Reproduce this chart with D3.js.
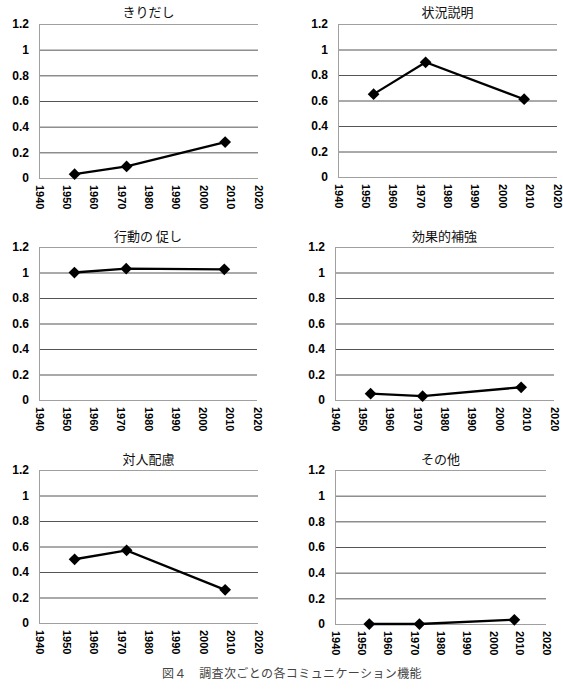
<!DOCTYPE html>
<html>
<head>
<meta charset="utf-8">
<script src="https://cdn.jsdelivr.net/npm/d3@7"></script>
<style>
  body { margin: 0; background: #fff; }
  svg { display: block; }
</style>
</head>
<body>
<div id="chart"></div>
<script>
// survey years
var years = [1953, 1972, 2008];

var titles = ["きりだし", "状況説明", "行動の 促し", "効果的補強", "対人配慮", "その他"];

// values
var kiridashi = [0.03, 0.09, 0.28];
var jokyoSetsumei = [0.65, 0.90, 0.61];
var kodoUnagashi = [1.0, 1.03, 1.025];
var kokaHokyo = [0.05, 0.03, 0.10];
var taijinHairyo = [0.50, 0.57, 0.26];
var sonota = [0, 0, 0.033];

var series = [kiridashi, jokyoSetsumei, kodoUnagashi, kokaHokyo, taijinHairyo, sonota];

var xTicks = [1940, 1950, 1960, 1970, 1980, 1990, 2000, 2010, 2020];
var yTicks = [0, 0.2, 0.4, 0.6, 0.8, 1, 1.2];

var caption = "図４　調査次ごとの各コミュニケーション機能";

// plot boxes for the six panels
var boxes = [
  {x0: 39, x1: 258, y0: 24, y1: 178, ty: 12},
  {x0: 338, x1: 557, y0: 24, y1: 177, ty: 12},
  {x0: 39, x1: 257, y0: 247, y1: 400, ty: 236},
  {x0: 335, x1: 554, y0: 247, y1: 400, ty: 236},
  {x0: 39, x1: 258, y0: 470, y1: 623, ty: 459},
  {x0: 335, x1: 546, y0: 470, y1: 624, ty: 459}
];

var svg = d3.select("#chart").append("svg")
  .attr("width", 563)
  .attr("height", 689);

var diamond = d3.symbol().type(d3.symbolDiamond2).size(88);

boxes.forEach(function(b, i) {
  var x = d3.scaleLinear().domain([1940, 2020]).range([b.x0, b.x1]);
  var y = d3.scaleLinear().domain([0, 1.2]).range([b.y1, b.y0]);
  var g = svg.append("g");

  // horizontal grid
  var grid = g.append("g")
    .attr("transform", "translate(" + b.x0 + ",0)")
    .call(d3.axisLeft(y).tickValues(yTicks).tickSize(-(b.x1 - b.x0)).tickFormat(""));
  grid.select(".domain").remove();
  grid.selectAll(".tick line")
    .attr("stroke", function(d) { return (d == 0 || d == 1.2) ? "#a0a0a0" : "#555"; })
    .attr("stroke-width", 1);

  // y labels
  var ya = g.append("g")
    .attr("transform", "translate(" + b.x0 + ",0)")
    .call(d3.axisLeft(y).tickValues(yTicks).tickSize(0).tickPadding(10).tickFormat(function(d) { return d; }));
  ya.select(".domain").attr("stroke", "#a0a0a0");
  ya.selectAll("text")
    .style("font-family", "'Liberation Sans', Arial, sans-serif")
    .style("font-weight", "bold")
    .style("font-size", "12px")
    .attr("fill", "#000");

  // x labels, turned
  var xa = g.append("g")
    .attr("transform", "translate(0," + b.y1 + ")")
    .call(d3.axisBottom(x).tickValues(xTicks).tickSize(0).tickFormat(d3.format("d")));
  xa.select(".domain").remove();
  xa.selectAll("text")
    .attr("transform", "rotate(90)")
    .attr("x", 7)
    .attr("y", 0)
    .attr("dy", "0.36em")
    .style("text-anchor", "start")
    .style("font-family", "'Liberation Sans', Arial, sans-serif")
    .style("font-weight", "bold")
    .style("font-size", "11px")
    .attr("fill", "#000");

  // title
  g.append("text")
    .attr("x", (b.x0 + b.x1) / 2)
    .attr("y", b.ty)
    .attr("dy", "0.35em")
    .attr("text-anchor", "middle")
    .style("font-family", "'Noto Sans CJK JP', sans-serif")
    .style("font-size", "13px")
    .attr("fill", "#111")
    .text(titles[i]);

  var pts = years.map(function(yr, j) { return [yr, series[i][j]]; });

  g.append("path")
    .datum(pts)
    .attr("fill", "none")
    .attr("stroke", "#000")
    .attr("stroke-width", 2.3)
    .attr("d", d3.line().x(function(d) { return x(d[0]); }).y(function(d) { return y(d[1]); }));

  g.selectAll("path.mark")
    .data(pts)
    .enter().append("path")
    .attr("class", "mark")
    .attr("d", diamond)
    .attr("fill", "#000")
    .attr("transform", function(d) { return "translate(" + x(d[0]) + "," + y(d[1]) + ")"; });
});

svg.append("text")
  .attr("x", 292)
  .attr("y", 674)
  .attr("dy", "0.35em")
  .attr("text-anchor", "middle")
  .style("font-family", "'Noto Sans CJK JP', sans-serif")
  .style("font-size", "12px")
  .style("letter-spacing", "0.4px")
  .attr("fill", "#444")
  .text(caption);
</script>
</body>
</html>
